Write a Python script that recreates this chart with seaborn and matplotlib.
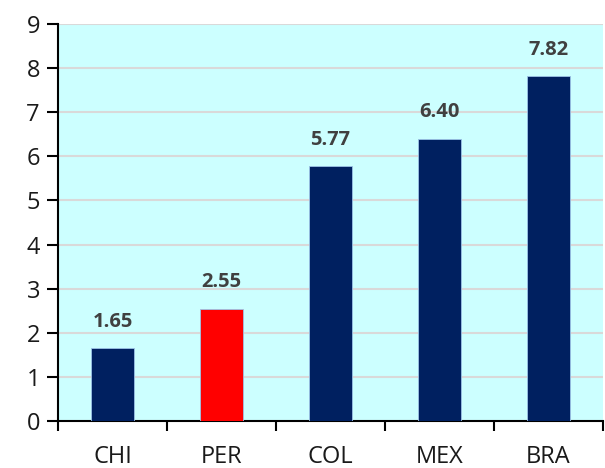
import matplotlib
matplotlib.use("Agg")
import matplotlib.pyplot as plt
from matplotlib.ticker import FixedLocator
import seaborn as sns
import pandas as pd

countries = ["CHI", "PER", "COL", "MEX", "BRA"]
values = [1.65, 2.55, 5.77, 6.40, 7.82]
bar_colors = ["#002060", "#FF0000", "#002060", "#002060", "#002060"]


def main():
    sns.set_theme(style="white")
    plt.rcParams["font.family"] = ["Open Sans", "DejaVu Sans"]
    data = pd.DataFrame({"country": countries, "value": values})

    fig = plt.figure(figsize=(6.05, 4.68), dpi=100)
    ax = fig.add_axes([0.0959, 0.1004, 0.9008, 0.8483])
    ax.set_facecolor("#CCFFFF")
    sns.barplot(data=data, x="country", y="value", hue="country", palette=bar_colors, saturation=1,
                width=0.4, edgecolor="#9DC3E6", linewidth=0.6, legend=False, ax=ax, zorder=3)

    ax.set_ylim(0, 9)
    ax.set_xlim(-0.5, 4.5)
    ax.set_yticks(range(10))
    ax.yaxis.grid(True, color="#D9D9D9", lw=1.5, zorder=0)
    ax.set_axisbelow(True)
    for s in ("top", "right"):
        ax.spines[s].set_visible(False)
    for s in ("left", "bottom"):
        ax.spines[s].set_color("black")
        ax.spines[s].set_linewidth(1.5)

    ax.tick_params(axis="y", length=8, width=1.5, color="black", labelsize=17, pad=5,
                   direction="out", left=True, labelcolor="#1A1A1A")
    ax.tick_params(axis="x", which="major", length=0, labelsize=17, pad=17, labelcolor="#1A1A1A")
    ax.xaxis.set_minor_locator(FixedLocator([i - 0.5 for i in range(6)]))
    ax.tick_params(axis="x", which="minor", length=7, width=1.5, color="black", direction="out", bottom=True)
    ax.set_xlabel(""); ax.set_ylabel("")

    for i, v in enumerate(values):
        ax.annotate(f"{v:.2f}", (i, v), xytext=(0, 19), textcoords="offset points",
                    ha="center", va="center", fontsize=14.5, fontweight="bold", color="#404040")

    fig.savefig("out.png", dpi=100)
    plt.close(fig)


if __name__ == "__main__":
    main()
